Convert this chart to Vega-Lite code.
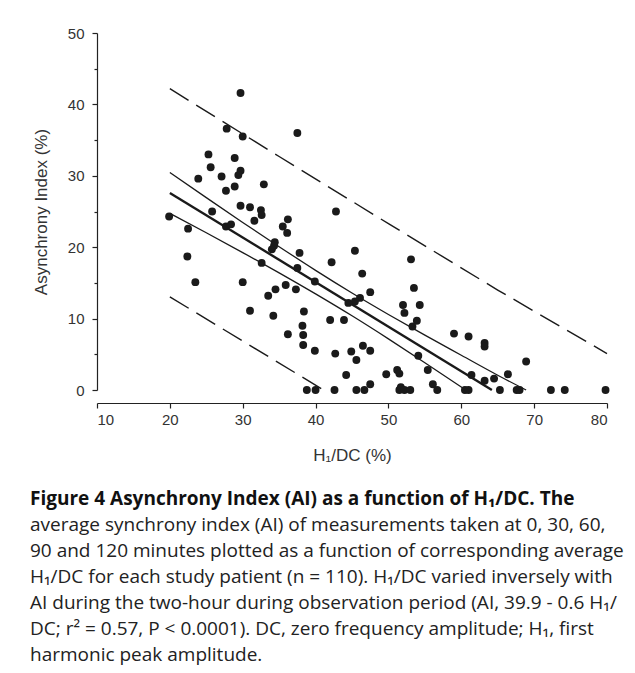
{
  "$schema": "https://vega.github.io/schema/vega-lite/v6.json",
  "width": 510,
  "height": 357,
  "autosize": {"type": "none"},
  "padding": {"left": 97, "top": 33, "right": 28, "bottom": 283},
  "background": "white",
  "datasets": {
    "pts": [
      {"h1dc": 29.7, "ai": 41.6}, {"h1dc": 27.8, "ai": 36.6}, {"h1dc": 30.0, "ai": 35.5}, {"h1dc": 37.5, "ai": 36.0},
      {"h1dc": 25.3, "ai": 33.0}, {"h1dc": 28.9, "ai": 32.5}, {"h1dc": 25.6, "ai": 31.2}, {"h1dc": 29.7, "ai": 30.7},
      {"h1dc": 29.4, "ai": 30.1}, {"h1dc": 23.9, "ai": 29.6}, {"h1dc": 27.1, "ai": 29.9}, {"h1dc": 32.9, "ai": 28.8},
      {"h1dc": 27.7, "ai": 27.9}, {"h1dc": 28.9, "ai": 28.5}, {"h1dc": 29.7, "ai": 25.8}, {"h1dc": 31.0, "ai": 25.6},
      {"h1dc": 32.5, "ai": 25.2}, {"h1dc": 32.6, "ai": 24.5}, {"h1dc": 25.8, "ai": 25.0}, {"h1dc": 31.6, "ai": 23.7},
      {"h1dc": 19.9, "ai": 24.3}, {"h1dc": 22.5, "ai": 22.6}, {"h1dc": 27.7, "ai": 22.9}, {"h1dc": 28.4, "ai": 23.2},
      {"h1dc": 36.2, "ai": 23.9}, {"h1dc": 35.5, "ai": 22.9}, {"h1dc": 36.1, "ai": 22.0}, {"h1dc": 34.4, "ai": 20.7},
      {"h1dc": 34.0, "ai": 19.7}, {"h1dc": 34.3, "ai": 20.2}, {"h1dc": 37.8, "ai": 19.2}, {"h1dc": 22.4, "ai": 18.7},
      {"h1dc": 32.6, "ai": 17.8}, {"h1dc": 37.5, "ai": 17.1}, {"h1dc": 23.5, "ai": 15.1}, {"h1dc": 30.0, "ai": 15.1},
      {"h1dc": 35.9, "ai": 14.7}, {"h1dc": 34.5, "ai": 14.1}, {"h1dc": 37.3, "ai": 14.1}, {"h1dc": 33.5, "ai": 13.2},
      {"h1dc": 31.0, "ai": 11.1}, {"h1dc": 34.2, "ai": 10.4}, {"h1dc": 38.4, "ai": 11.0}, {"h1dc": 38.2, "ai": 9.0},
      {"h1dc": 38.3, "ai": 7.7}, {"h1dc": 36.2, "ai": 7.8}, {"h1dc": 38.3, "ai": 6.3},
      {"h1dc": 42.8, "ai": 25.0}, {"h1dc": 45.4, "ai": 19.5}, {"h1dc": 53.1, "ai": 18.3}, {"h1dc": 42.2, "ai": 17.9},
      {"h1dc": 46.4, "ai": 16.3}, {"h1dc": 39.9, "ai": 15.2}, {"h1dc": 53.5, "ai": 14.3}, {"h1dc": 47.5, "ai": 13.7},
      {"h1dc": 46.1, "ai": 12.9}, {"h1dc": 45.4, "ai": 12.4}, {"h1dc": 44.5, "ai": 12.2}, {"h1dc": 52.0, "ai": 11.9},
      {"h1dc": 54.3, "ai": 11.9}, {"h1dc": 52.2, "ai": 10.8}, {"h1dc": 42.0, "ai": 9.8}, {"h1dc": 43.9, "ai": 9.8},
      {"h1dc": 53.9, "ai": 9.7}, {"h1dc": 53.3, "ai": 8.9}, {"h1dc": 59.0, "ai": 7.9}, {"h1dc": 39.9, "ai": 5.5},
      {"h1dc": 42.7, "ai": 5.1}, {"h1dc": 44.9, "ai": 5.4}, {"h1dc": 46.5, "ai": 6.2}, {"h1dc": 47.5, "ai": 5.5},
      {"h1dc": 45.6, "ai": 4.2}, {"h1dc": 54.1, "ai": 4.8}, {"h1dc": 55.4, "ai": 2.8}, {"h1dc": 44.2, "ai": 2.1},
      {"h1dc": 49.7, "ai": 2.2}, {"h1dc": 51.2, "ai": 2.8}, {"h1dc": 51.5, "ai": 2.3}, {"h1dc": 47.5, "ai": 0.8},
      {"h1dc": 56.1, "ai": 0.8}, {"h1dc": 51.7, "ai": 0.4},
      {"h1dc": 38.8, "ai": 0}, {"h1dc": 40.0, "ai": 0}, {"h1dc": 42.6, "ai": 0}, {"h1dc": 45.6, "ai": 0},
      {"h1dc": 46.7, "ai": 0}, {"h1dc": 51.5, "ai": 0}, {"h1dc": 52.2, "ai": 0}, {"h1dc": 53.0, "ai": 0},
      {"h1dc": 56.7, "ai": 0},
      {"h1dc": 61.0, "ai": 7.5}, {"h1dc": 63.2, "ai": 6.6}, {"h1dc": 63.2, "ai": 6.1}, {"h1dc": 68.9, "ai": 4.0},
      {"h1dc": 66.4, "ai": 2.2}, {"h1dc": 61.4, "ai": 2.1}, {"h1dc": 64.5, "ai": 1.6}, {"h1dc": 63.2, "ai": 1.3},
      {"h1dc": 60.5, "ai": 0}, {"h1dc": 61.0, "ai": 0}, {"h1dc": 65.3, "ai": 0}, {"h1dc": 67.6, "ai": 0},
      {"h1dc": 68.0, "ai": 0}, {"h1dc": 72.3, "ai": 0}, {"h1dc": 74.2, "ai": 0}, {"h1dc": 79.8, "ai": 0}
    ],
    "fit": [
      {"line": "regression", "h1dc": 20, "ai": 27.6}, {"line": "regression", "h1dc": 64.2, "ai": 0},
      {"line": "ci_upper", "h1dc": 20, "ai": 30.45}, {"line": "ci_upper", "h1dc": 25, "ai": 26.94},
      {"line": "ci_upper", "h1dc": 30, "ai": 23.47}, {"line": "ci_upper", "h1dc": 35, "ai": 20.07},
      {"line": "ci_upper", "h1dc": 40, "ai": 16.76}, {"line": "ci_upper", "h1dc": 45, "ai": 13.59},
      {"line": "ci_upper", "h1dc": 50, "ai": 10.58}, {"line": "ci_upper", "h1dc": 55, "ai": 7.68},
      {"line": "ci_upper", "h1dc": 60, "ai": 4.87}, {"line": "ci_upper", "h1dc": 65, "ai": 2.07},
      {"line": "ci_upper", "h1dc": 68.9, "ai": 0},
      {"line": "ci_lower", "h1dc": 20, "ai": 24.75}, {"line": "ci_lower", "h1dc": 25, "ai": 22.02},
      {"line": "ci_lower", "h1dc": 30, "ai": 19.25}, {"line": "ci_lower", "h1dc": 35, "ai": 16.41},
      {"line": "ci_lower", "h1dc": 40, "ai": 13.46}, {"line": "ci_lower", "h1dc": 45, "ai": 10.39},
      {"line": "ci_lower", "h1dc": 50, "ai": 7.16}, {"line": "ci_lower", "h1dc": 55, "ai": 3.82},
      {"line": "ci_lower", "h1dc": 60.6, "ai": 0},
      {"line": "pi_upper", "h1dc": 20, "ai": 42.2}, {"line": "pi_upper", "h1dc": 35, "ai": 32.7},
      {"line": "pi_upper", "h1dc": 50, "ai": 23.3}, {"line": "pi_upper", "h1dc": 65, "ai": 14.0},
      {"line": "pi_upper", "h1dc": 80, "ai": 5.1},
      {"line": "pi_lower", "h1dc": 20, "ai": 13.05}, {"line": "pi_lower", "h1dc": 30, "ai": 6.86},
      {"line": "pi_lower", "h1dc": 41.1, "ai": 0}
    ]
  },
  "encoding": {
    "x": {
      "field": "h1dc", "type": "quantitative",
      "scale": {"domain": [10, 80], "nice": false, "zero": false},
      "axis": {
        "title": "H₁/DC (%)", "values": [10, 20, 30, 40, 50, 60, 70, 80],
        "offset": 13, "tickSize": 5, "labelPadding": 4, "titlePadding": 20
      }
    },
    "y": {
      "field": "ai", "type": "quantitative",
      "scale": {"domain": [0, 50], "nice": false},
      "axis": {
        "title": "Asynchrony Index (%)", "values": [0, 5, 10, 15, 20, 25, 30, 35, 40, 45, 50],
        "labelExpr": "datum.value % 10 === 0 ? datum.label : ''",
        "tickSize": {"condition": {"test": "datum.value % 10 === 0", "value": 5}, "value": 3},
        "labelPadding": 8, "titlePadding": 17
      }
    }
  },
  "layer": [
    {
      "data": {"name": "fit"},
      "transform": [{"filter": "datum.line === 'pi_upper' || datum.line === 'pi_lower'"}],
      "mark": {"type": "line", "color": "#1a1a1a", "strokeWidth": 1.4, "strokeDash": [22, 9]},
      "encoding": {"detail": {"field": "line"}}
    },
    {
      "data": {"name": "fit"},
      "transform": [{"filter": "datum.line === 'ci_upper' || datum.line === 'ci_lower'"}],
      "mark": {"type": "line", "color": "#1a1a1a", "strokeWidth": 1.3, "interpolate": "monotone"},
      "encoding": {"detail": {"field": "line"}}
    },
    {
      "data": {"name": "fit"},
      "transform": [{"filter": "datum.line === 'regression'"}],
      "mark": {"type": "line", "color": "#1a1a1a", "strokeWidth": 2.4},
      "encoding": {"detail": {"field": "line"}}
    },
    {
      "data": {"name": "pts"},
      "mark": {"type": "circle", "color": "#1a1a1a", "opacity": 1, "size": 62}
    }
  ],
  "title": {
    "text": "Figure 4 Asynchrony Index (AI) as a function of H₁/DC. The",
    "subtitle": [
      "average synchrony index (AI) of measurements taken at 0, 30, 60,",
      "90 and 120 minutes plotted as a function of corresponding average",
      "H₁/DC for each study patient (n = 110). H₁/DC varied inversely with",
      "AI during the two-hour during observation period (AI, 39.9 - 0.6 H₁/",
      "DC; r² = 0.57, P < 0.0001). DC, zero frequency amplitude; H₁, first",
      "harmonic peak amplitude."
    ],
    "orient": "bottom", "anchor": "start", "frame": "group", "dx": -67, "offset": 27,
    "font": "Open Sans", "fontSize": 19, "fontWeight": "bold", "color": "#111111",
    "subtitleFont": "Open Sans", "subtitleFontSize": 19, "subtitleColor": "#222222",
    "subtitleLineHeight": 26, "subtitlePadding": 7, "lineHeight": 26
  },
  "config": {
    "view": {"stroke": null},
    "axis": {
      "grid": false, "domainColor": "#222222", "tickColor": "#222222", "domainWidth": 1.2, "tickWidth": 1.2,
      "labelFont": "Liberation Sans", "titleFont": "Liberation Sans", "labelFontSize": 15, "titleFontSize": 17,
      "labelColor": "#333333", "titleColor": "#333333", "titleFontWeight": "normal"
    }
  }
}
